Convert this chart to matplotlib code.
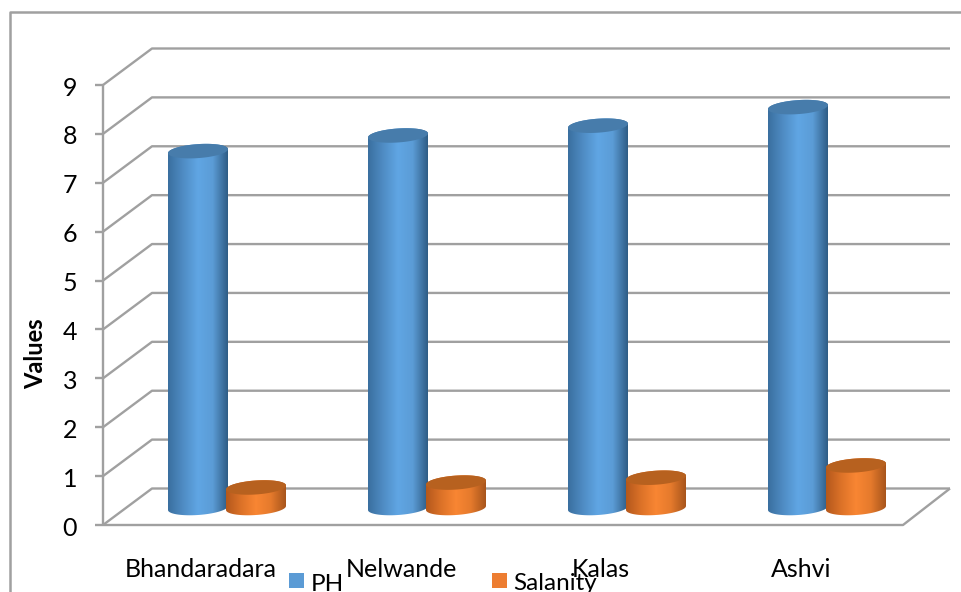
#!/usr/bin/python
import numpy as np
from matplotlib import pyplot as plt
from matplotlib.colors import LinearSegmentedColormap
from matplotlib.patches import PathPatch, Rectangle
from matplotlib.path import Path
from matplotlib.transforms import Affine2D

sitios = ["Bhandaradara", "Nelwande", "Kalas", "Ashvi"]
ph = [7.3, 7.62, 7.82, 8.2]
salanity = [0.42, 0.52, 0.62, 0.87]
ticks = list(range(10))

W, H = 961, 592
plt.rcParams['font.family'] = ['Lato', 'DejaVu Sans']

fig = plt.figure(figsize=(W / 100, H / 100), dpi=100)
ax = fig.add_axes([103 / W, (H - 525) / H, 800 / W, 440 / H])
ax.set_xlim(0, len(sitios))
ax.set_ylim(0, 9)
ax.axis('off')

# pixel coordinates for the things around the plot
px = Affine2D().scale(1 / W, -1 / H).translate(0, 1) + fig.transFigure

GRIS = '#a0a0a0'
UNIDAD = 440 / 9                 # pixels per y unit
DX, DY = 49 / 200, 36.5 / UNIDAD   # depth of the 3d box
FONDO_DER = 847 / 200            # right end of the back wall


def linea(xs, ys):
    ax.plot(xs, ys, color=GRIS, lw=1.7, clip_on=False, solid_capstyle='butt', zorder=1)


# outer frame, runs off the page on the right and bottom
fig.add_artist(plt.Line2D([10, 10, W], [H, 12, 12], transform=px, color=GRIS, lw=1.8))

# walls and floor
for t in ticks:
    linea([0, DX, FONDO_DER], [t, t + DY, t + DY])
    linea([-8 / 200, 0], [t, t])
    ax.text(-26 / 200, t - 3 / UNIDAD, str(t), ha='right', va='center', fontsize=18, color='black')
linea([0, 0], [0, 9])
linea([0, len(sitios), FONDO_DER], [0, 0, DY])

azul = LinearSegmentedColormap.from_list('azul', ['#3a6f9f', '#4f8cc4', '#60a6e4', '#5b9cd6', '#2f5d86'])
naranja = LinearSegmentedColormap.from_list('naranja', ['#b4581c', '#dc7228', '#f98633', '#e57a2c', '#a8551c'])


def cilindro(cx, valor, cmap, tapa):
    ancho = 0.15
    base = 17 / UNIDAD
    alto = 7 / UNIDAD
    incl = 2 / UNIDAD
    t = np.linspace(0, np.pi, 40)
    # lower edge of the base, left to right, then back over the top edge
    cuerpo_x = np.concatenate([cx - ancho * np.cos(t), cx + ancho * np.cos(t)])
    cuerpo_y = np.concatenate([base - alto * np.sin(t) - incl * np.cos(t),
                               base + valor + alto * np.sin(t) + incl * np.cos(t)])
    cuerpo = PathPatch(Path(np.column_stack([cuerpo_x, cuerpo_y])), fc='none', ec='none', zorder=3)
    ax.add_patch(cuerpo)
    img = ax.imshow(np.linspace(0, 1, 128).reshape(1, -1), cmap=cmap, aspect='auto',
                    extent=[cx - ancho, cx + ancho, base - 1, base + valor + 1], zorder=3)
    img.set_clip_path(cuerpo)
    # top cap
    s = np.linspace(0, 2 * np.pi, 80)
    ax.fill(cx + ancho * np.cos(s), base + valor + alto * np.sin(s) + incl * np.cos(s),
            color=tapa, lw=0, zorder=3)


for i in range(len(sitios)):
    cilindro(i + 0.475, ph[i], azul, '#477cab')
    cilindro(i + 0.765, salanity[i], naranja, '#b7611f')
    ax.text(i + 0.49, -44.5 / UNIDAD, sitios[i], ha='center', va='center', fontsize=18, color='black')

ax.set_xlim(0, len(sitios))
ax.set_ylim(0, 9)

fig.text(36, 354, 'Values', transform=px, rotation=90, ha='center', va='center',
         fontsize=17, fontweight='bold', color='black')

# legend sits right on the bottom edge
fig.add_artist(Rectangle((289, 573), 15, 15, transform=px, fc='#5b9bd5', ec='none'))
fig.text(311, 591, 'PH', transform=px, fontsize=17.5, va='baseline', color='black')
fig.add_artist(Rectangle((492, 573), 15, 15, transform=px, fc='#ed7d31', ec='none'))
fig.text(513, 590, 'Salanity', transform=px, fontsize=17.5, va='baseline', color='black')

fig.savefig('out.png', dpi=100)
